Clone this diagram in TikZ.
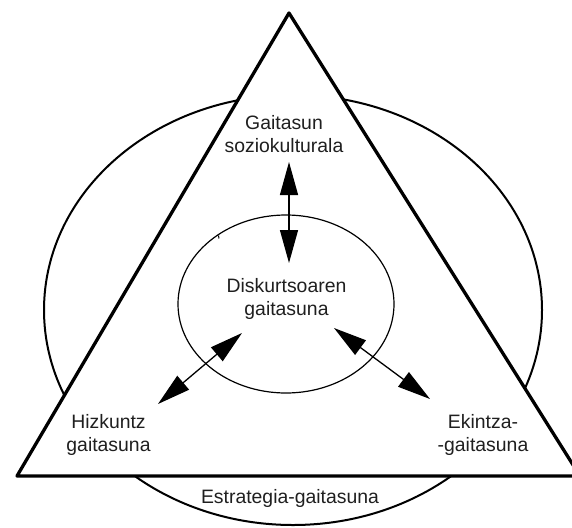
\documentclass[tikz,border=0pt]{standalone}
\usepackage{fontspec}
\setmainfont{Liberation Sans}
\usetikzlibrary{arrows.meta}
\begin{document}
\begin{tikzpicture}[x=1pt,y=-1pt,
  lbl/.style={font=\fontsize{19.4}{23}\selectfont, align=center, anchor=base, inner sep=0pt, text=black!88},
  dbl/.style={line width=1.3pt, {Triangle[length=33pt,width=18pt]}-{Triangle[length=33pt,width=18pt]}}]
\useasboundingbox (0,0) rectangle (572,527);

% outer ellipse, partly hidden by the triangle
\draw[line width=2pt] (293,310) ellipse [x radius=249, y radius=215];

% triangle drawn over it
\coordinate (apex) at (289,13);
\coordinate (bl) at (17,476);
\coordinate (br) at (580,476);
\draw[line width=3.3pt, fill=white, line join=round] (apex) -- (bl) -- (br) -- cycle;

% inner ellipse
\draw[line width=1.2pt] (286,304) ellipse [x radius=108, y radius=89];
\draw[line width=1pt] (218.5,235.5) -- (219,238.5);

% double-headed arrows
\coordinate (t1) at (289,162);
\coordinate (t2) at (289,263);
\coordinate (l1) at (242,333);
\coordinate (l2) at (158,404);
\coordinate (r1) at (334,328);
\coordinate (r2) at (430,399);
\draw[dbl] (t1) -- (t2);
\draw[dbl] (l1) -- (l2);
\draw[dbl] (r1) -- (r2);

% labels (anchored at the baseline of the last line)
\node[lbl] (soz) at (284,152) {Gaitasun\\soziokulturala};
\node[lbl] (disk) at (286.5,315) {Diskurtsoaren\\gaitasuna};
\node[lbl] (hiz) at (108.5,451) {Hizkuntz\\gaitasuna};
\node[lbl] (ek) at (483,451) {Ekintza-\\-gaitasuna};
\node[lbl] (est) at (290,503) {Estrategia-gaitasuna};
\end{tikzpicture}
\end{document}
